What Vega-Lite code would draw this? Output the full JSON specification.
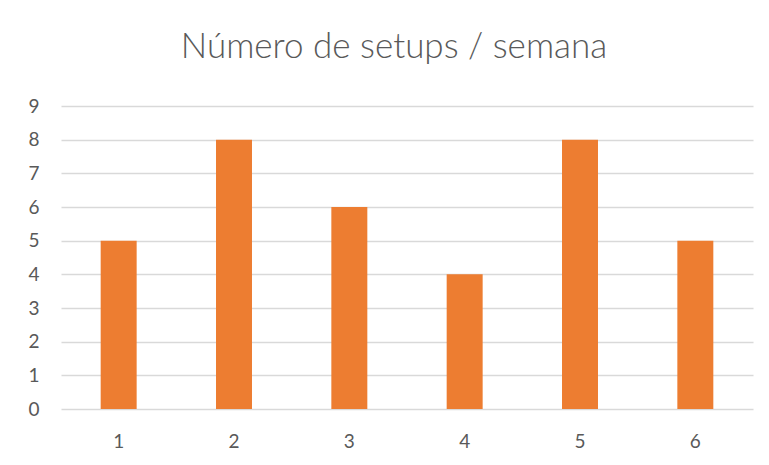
{
  "$schema": "https://vega.github.io/schema/vega-lite/v6.json",
  "autosize": "none",
  "width": 692,
  "height": 303,
  "padding": {"left": 61, "top": 106, "right": 16, "bottom": 56},
  "background": "white",
  "title": {
    "text": "Número de setups / semana",
    "font": "Lato",
    "fontSize": 35,
    "fontWeight": 300,
    "color": "#595959",
    "anchor": "middle",
    "frame": "group",
    "dx": -13,
    "offset": 32
  },
  "data": {
    "values": [
      {"semana": "1", "setups": 5},
      {"semana": "2", "setups": 8},
      {"semana": "3", "setups": 6},
      {"semana": "4", "setups": 4},
      {"semana": "5", "setups": 8},
      {"semana": "6", "setups": 5}
    ]
  },
  "mark": {"type": "bar", "color": "#ED7D31"},
  "encoding": {
    "x": {
      "field": "semana",
      "type": "ordinal",
      "scale": {"paddingInner": 0.688, "paddingOuter": 0.344},
      "axis": {
        "title": null,
        "labelAngle": 0,
        "domain": false,
        "ticks": false,
        "labelPadding": 23,
        "labelFont": "Lato",
        "labelFontSize": 19,
        "labelColor": "#595959"
      }
    },
    "y": {
      "field": "setups",
      "type": "quantitative",
      "scale": {"domain": [0, 9], "nice": false},
      "axis": {
        "title": null,
        "values": [0, 1, 2, 3, 4, 5, 6, 7, 8, 9],
        "domain": false,
        "ticks": false,
        "labelPadding": 22,
        "labelFont": "Lato",
        "labelFontSize": 19,
        "labelColor": "#595959",
        "gridColor": "#D9D9D9",
        "gridWidth": 1.3
      }
    }
  },
  "config": {"view": {"stroke": null}}
}
